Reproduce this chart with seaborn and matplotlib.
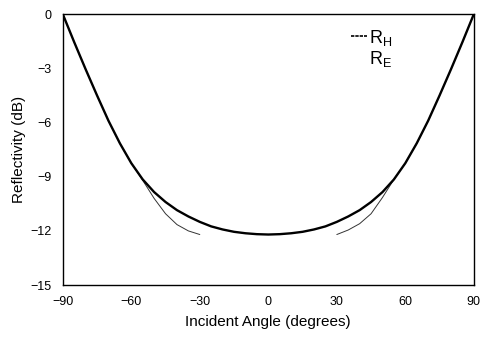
import numpy as np
import pandas as pd
import seaborn as sns
import matplotlib
matplotlib.use('Agg')
import matplotlib.pyplot as plt
from matplotlib.lines import Line2D

# incident angle (degrees) and reflectivity (dB)
angle_h = [-90, -85, -80, -75, -70, -65, -60, -55, -50, -45, -40, -35, -30, -25, -20, -15, -10, -5, 0,
           5, 10, 15, 20, 25, 30, 35, 40, 45, 50, 55, 60, 65, 70, 75, 80, 85, 90]
r_h = [0.0, -1.55, -3.05, -4.5, -5.9, -7.15, -8.25, -9.15, -9.85, -10.4, -10.85, -11.2, -11.5, -11.75, -11.92, -12.05, -12.13, -12.18, -12.2,
       -12.18, -12.13, -12.05, -11.92, -11.75, -11.5, -11.2, -10.85, -10.4, -9.85, -9.15, -8.25, -7.15, -5.9, -4.5, -3.05, -1.55, 0.0]

angle_e_left = [-90, -85, -80, -75, -70, -65, -60, -55, -50, -45, -40, -35, -30]
r_e_left = [0.0, -1.55, -3.05, -4.5, -5.9, -7.15, -8.25, -9.2, -10.2, -11.05, -11.65, -12.0, -12.2]
angle_e_right = [30, 35, 40, 45, 50, 55, 60, 65, 70, 75, 80, 85, 90]
r_e_right = [-12.2, -11.95, -11.6, -11.05, -10.15, -9.15, -8.25, -7.15, -5.9, -4.5, -3.05, -1.55, 0.0]

df_h = pd.DataFrame({'angle': angle_h, 'refl': r_h})
df_e = pd.DataFrame({'angle': angle_e_left + angle_e_right,
                     'refl': r_e_left + r_e_right,
                     'side': ['left'] * len(angle_e_left) + ['right'] * len(angle_e_right)})

sns.set_theme(style='white')
plt.rcParams['font.family'] = ['Liberation Sans', 'DejaVu Sans']

fig, ax = plt.subplots(figsize=(4.83, 3.37), dpi=100)
fig.subplots_adjust(left=0.130, right=0.981, top=0.958, bottom=0.154)

sns.lineplot(data=df_e, x='angle', y='refl', units='side', estimator=None,
             color='#333333', linewidth=0.7, ax=ax)
sns.lineplot(data=df_h, x='angle', y='refl', color='black', linewidth=1.7, ax=ax)

ax.set_xlim(-90, 90)
ax.set_ylim(-15, 0)
ax.set_xticks([-90, -60, -30, 0, 30, 60, 90])
ax.set_yticks([0, -3, -6, -9, -12, -15])
ax.set_xticklabels(['\u221290', '\u221260', '\u221230', '0', '30', '60', '90'])
ax.set_yticklabels(['0', '\u22123', '\u22126', '\u22129', '\u221212', '\u221215'])
ax.tick_params(direction='in', length=3, width=0.6, labelsize=9, colors='black', pad=8)
ax.set_xlabel('Incident Angle (degrees)', fontsize=11, color='black', labelpad=5)
ax.set_ylabel('Reflectivity (dB)', fontsize=11, color='black', labelpad=3)
for s in ax.spines.values():
    s.set_color('black')
    s.set_linewidth(1.0)

handles = [Line2D([], [], color='black', linewidth=1.2, linestyle=(0, (2, 0.6))),
           Line2D([], [], color='white', linewidth=0)]
ax.legend(handles, [r'R$_\mathregular{H}$', r'R$_\mathregular{E}$'], loc='upper right',
          bbox_to_anchor=(0.84, 1.01), frameon=False, fontsize=13, handlelength=0.9,
          handletextpad=0.1, labelspacing=0.05, labelcolor='black')

fig.savefig('out.png', dpi=100)
